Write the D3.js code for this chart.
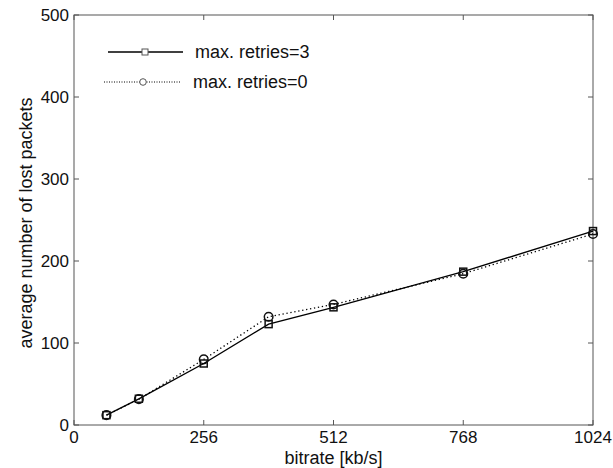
<!DOCTYPE html>
<html lang="en">
<head>
<meta charset="UTF-8">
<title>Lost packets</title>
<script src="https://cdn.jsdelivr.net/npm/d3@7"></script>
<style>
	body { margin: 0; background: #fff; }
	text { font-family: "Liberation Sans", Arial, sans-serif; font-size: 17px; fill: #111; }
	text.big { font-size: 18px; }
</style>
</head>
<body>
<svg id="svg"></svg>
<script>
var bitrates = [64, 128, 256, 384, 512, 768, 1024];
var retries3 = [12, 32, 75, 123, 143.5, 187, 236.5];
var retries0 = [12, 31.5, 80, 132, 147, 184.5, 233];
var xTicks = [0, 256, 512, 768, 1024];
var yTicks = [0, 100, 200, 300, 400, 500];
var seriesNames = ["max. retries=3", "max. retries=0"];

var w = 613, h = 468;
var svg = d3.select("#svg").attr("width", w).attr("height", h);

var x = d3.scaleLinear().domain([0, 1024]).range([74, 593]);
var y = d3.scaleLinear().domain([0, 500]).range([425, 15]);

var axisColor = "#555";

// frame
svg.append("rect")
	.attr("x", x(0)).attr("y", y(500))
	.attr("width", x(1024) - x(0)).attr("height", y(0) - y(500))
	.attr("fill", "none").attr("stroke", axisColor).attr("stroke-width", 1);

// inward ticks on all four sides
var tl = 5;
xTicks.forEach(function(t) {
	svg.append("line").attr("x1", x(t)).attr("x2", x(t)).attr("y1", y(0)).attr("y2", y(0) - tl).attr("stroke", axisColor);
	svg.append("line").attr("x1", x(t)).attr("x2", x(t)).attr("y1", y(500)).attr("y2", y(500) + tl).attr("stroke", axisColor);
	svg.append("text").attr("x", x(t)).attr("y", y(0) + 18)
		.attr("text-anchor", "middle").text(t);
});
yTicks.forEach(function(t) {
	svg.append("line").attr("x1", x(0)).attr("x2", x(0) + tl).attr("y1", y(t)).attr("y2", y(t)).attr("stroke", axisColor);
	svg.append("line").attr("x1", x(1024)).attr("x2", x(1024) - tl).attr("y1", y(t)).attr("y2", y(t)).attr("stroke", axisColor);
	svg.append("text").attr("x", x(0) - 5).attr("y", y(t)).attr("dy", "0.35em")
		.attr("text-anchor", "end").text(t);
});

// axis titles
svg.append("text").attr("class", "big").attr("x", (x(0) + x(1024)) / 2).attr("y", 464)
	.attr("text-anchor", "middle").text("bitrate [kb/s]");
svg.append("text").attr("class", "big").attr("transform", "translate(32,223) rotate(-90)")
	.attr("text-anchor", "middle").text("average number of lost packets");

var line = d3.line().x(function(d) { return x(d[0]); }).y(function(d) { return y(d[1]); });

function drawSeries(vals, dash, marker) {
	var pts = bitrates.map(function(b, i) { return [b, vals[i]]; });
	svg.append("path").datum(pts).attr("d", line)
		.attr("fill", "none").attr("stroke", "#000")
		.attr("stroke-width", dash ? 1.3 : 1.4)
		.attr("stroke-dasharray", dash ? "1.3,2.7" : null);
	pts.forEach(function(p) {
		if (marker === "square") {
			svg.append("rect").attr("x", x(p[0]) - 3.5).attr("y", y(p[1]) - 3.5)
				.attr("width", 7).attr("height", 7)
				.attr("fill", "none").attr("stroke", "#111").attr("stroke-width", 1.5);
		} else {
			svg.append("circle").attr("cx", x(p[0])).attr("cy", y(p[1])).attr("r", 4.3)
				.attr("fill", "none").attr("stroke", "#111").attr("stroke-width", 1.5);
		}
	});
}

drawSeries(retries0, true, "circle");
drawSeries(retries3, false, "square");

// legend
var leg = svg.append("g");
leg.append("line").attr("x1", 108).attr("x2", 183).attr("y1", 52).attr("y2", 52)
	.attr("stroke", "#000").attr("stroke-width", 1.4);
leg.append("rect").attr("x", 142).attr("y", 49).attr("width", 6).attr("height", 6)
	.attr("fill", "#fff").attr("stroke", "#555").attr("stroke-width", 1);
leg.append("text").attr("class", "big").attr("x", 195).attr("y", 52).attr("dy", "0.35em").text(seriesNames[0]);

leg.append("line").attr("x1", 104).attr("x2", 180).attr("y1", 82).attr("y2", 82)
	.attr("stroke", "#000").attr("stroke-width", 1).attr("stroke-dasharray", "1,1.5");
leg.append("circle").attr("cx", 143).attr("cy", 82).attr("r", 3.3)
	.attr("fill", "#fff").attr("stroke", "#555").attr("stroke-width", 1);
leg.append("text").attr("class", "big").attr("x", 193).attr("y", 82).attr("dy", "0.35em").text(seriesNames[1]);
</script>
</body>
</html>
